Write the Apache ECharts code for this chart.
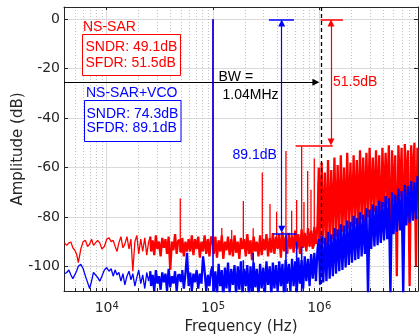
<!DOCTYPE html>
<html><head><meta charset="utf-8">
<script src="https://cdn.jsdelivr.net/npm/echarts@6/dist/echarts.min.js"></script>
<style>html,body{margin:0;padding:0;background:#fff}#c{width:419px;height:336px}</style>
</head><body><div id="c"></div>
<script>
// ---- data (frequencies in kHz, amplitudes in dB) ----
const freqKHz = [
  4.0, 4.2, 4.4, 4.6, 4.8, 5.0, 5.2, 5.4, 5.7, 6.0, 6.3, 6.6, 6.9, 7.2, 7.5, 7.8, 8.2, 8.6, 9.0, 9.5,
  10, 10.5, 11, 11.5, 12, 12.5, 13, 13.6, 14.2, 14.8, 15.5, 16.2, 16.9, 17.6, 18.4, 19.2, 20, 20.9, 21.8, 22.8, 23.8, 24.8,
  25.7, 26.6, 27.5, 28.5, 29.5, 30.5, 31.6, 32.7, 33.9, 35.1, 36.3, 37.6, 38.9, 40.3, 41.7, 43.2, 44.7, 46.3, 47.9, 50.5,
  52.3, 54.1, 56.0, 58.0, 60.0, 62.1, 64.3, 66.6, 68.9, 71.4, 73.9, 76.5, 79.2, 82.0, 84.9, 87.9, 91.0, 94.2, 97.5,
  100, 103.5, 107, 111, 115, 119, 123, 127, 132, 136, 141, 146, 151, 157, 162, 168, 174, 180, 186, 193,
  200, 207, 214, 222, 229, 237, 246, 254, 263, 273, 282, 292, 303, 313, 324, 336, 348, 360, 372, 385,
  399, 413, 428, 443, 458, 474, 491, 508, 526, 545, 564, 584, 604, 625, 647, 670, 694, 718, 743, 770,
  797, 825, 854, 884, 915, 947, 980,
  1000, 1035, 1072, 1110, 1149, 1189, 1231, 1275, 1320, 1366, 1414, 1464, 1516, 1569, 1624, 1682, 1741, 1802, 1866, 1932,
  2000, 2070, 2143, 2219, 2297, 2378, 2462, 2549, 2639, 2732, 2828, 2928, 3031, 3138, 3249, 3364, 3482, 3605, 3733, 3864,
  4000, 4141, 4287, 4439, 4595, 4757, 4925, 5099, 5279, 5465, 5658, 5857, 6064, 6278, 6499, 6728, 6966, 7211, 7466, 7729,
  8002, 8284, 8500
];
const redDb = [
  -90.5, -91.5, -90.5, -90.2, -92.5, -93.5, -95, -98.5, -93, -90, -89.5, -92, -91, -89, -91.5, -92, -89.5, -90.5, -93, -92,
  -89, -88.5, -90, -89.5, -92, -94, -90.5, -88, -92.5, -91, -88, -93, -89, -102, -90, -87.5, -95, -89, -94, -88.5, -95.5, -90,
  -88, -94, -89.5, -95.5, -87.5, -93, -90, -96, -88.5, -92.5, -89, -95, -88, -101.5, -90, -93.5, -87, -95, -89.5, -94,
  -88.5, -96, -90, -94, -89, -94, -87.5, -95.5, -89, -93, -88, -96.5, -90, -94, -87.5, -95, -89, -96, -88,
  -89, -95, -88, -96.5, -89.5, -94, -87.5, -97, -90, -93.5, -88, -95.5, -89, -96, -87.5, -94.5, -90, -97, -88.5, -93,
  -89, -96, -87, -95, -89.5, -97.5, -88, -94, -90, -96, -87.5, -95.5, -89, -93.5, -87, -96, -88.5, -94.5, -86.5, -95,
  -88, -93, -87, -96.5, -86, -94, -88, -95, -86.5, -93, -87.5, -94.5, -85.5, -93, -87, -95, -85, -92.5, -86.5, -94,
  -84.5, -92, -85.5, -93, -84, -91, -83,
  -60, -92, -58, -91, -62, -92, -57, -90, -61, -89, -56, -88, -59, -88, -55, -86, -60, -86, -54, -85,
  -58, -84, -55, -83, -57, -84, -53, -81, -56, -82, -54, -80, -52, -80, -56, -78, -53, -79, -55, -90,
  -52, -76, -54, -75, -51, -98, -53, -74, -55, -104, -51, -72, -52, -95, -50.5, -71, -53, -108, -51, -70,
  -50, -100, -52
];
const blueDb = [
  -103, -102.5, -101.5, -103.5, -105, -105.5, -102, -100, -99.2, -101, -104, -106.5, -109, -106, -102.5, -102, -104.5, -106, -104, -101.5,
  -100.5, -102, -101, -104, -101.5, -103.5, -102.5, -106, -103, -107.5, -104, -102, -105.5, -103, -108, -104.5, -101.5, -107, -103.5, -109, -102.5, -106,
  -102, -108, -103.5, -110, -101.5, -107, -104, -109.5, -102.5, -106.5, -103, -110, -101, -108.5, -104, -107, -102, -110, -103.5, -106,
  -101.5, -109, -103, -94.5, -108, -102.5, -110, -103, -106.5, -101.5, -109, -103, -107, -96, -102, -110, -103.5, -108, -102,
  -100, -110, -102, -112, -99, -108, -101.5, -113, -100.5, -109, -98.5, -111, -101, -107.5, -99.5, -112, -100, -109.5, -98, -111,
  -101, -108, -99.5, -113, -100, -110, -98.5, -108.5, -101, -112, -99, -109, -100.5, -111, -98, -107.5, -100, -112, -98.5, -109,
  -99.5, -110.5, -98, -108, -99, -112, -97.5, -107, -99, -110, -97, -108, -98, -111, -96.5, -107, -97.5, -109, -96, -106,
  -97, -108, -95, -105, -94.5, -106, -93,
  -89, -107.5, -87.5, -106.5, -88.5, -106, -86, -105, -87, -104, -84.5, -103, -85, -102, -83, -101.5, -83.5, -100.5, -81.5, -99.5,
  -82, -98.5, -79.5, -97.5, -80.5, -97, -78, -96, -79, -95, -76.5, -112, -77, -93, -75, -92, -75.5, -91.5, -73.5, -90.5,
  -74, -89.5, -71.5, -89, -72.5, -112, -70, -87, -71, -86, -68.5, -85.5, -69.5, -112, -67, -83.5, -67.5, -82.5, -65.5, -81.5,
  -66, -81, -63.5
];
// tones and harmonic spurs (kHz, peak dB)
const redSpurKHz = [49.2, 100, 121, 150, 193, 239, 291, 344, 397, 486, 550, 613, 683, 718, 778, 836, 898, 980];
const redSpurDb  = [-72.5, 0, -84.5, -85.3, -73.6, -84.6, -62, -74.8, -77.9, -53.3, -77.5, -73.2, -51.5, -74, -61.4, -69, -56.3, -66];
const blueSpurKHz = [100, 193, 239, 486, 613, 683];
const blueSpurDb  = [0, -97.5, -94.6, -87.2, -90, -92];
// axis ticks
const xMajorTicks = [1e4, 1e5, 1e6];
const xMinorTicks = [5e3, 6e3, 7e3, 8e3, 9e3, 2e4, 3e4, 4e4, 5e4, 6e4, 7e4, 8e4, 9e4,
  2e5, 3e5, 4e5, 5e5, 6e5, 7e5, 8e5, 9e5, 2e6, 3e6, 4e6, 5e6, 6e6, 7e6, 8e6];
const yTicks = [-100, -80, -60, -40, -20, 0];
// annotation values
const bwHz = 1.04e6;
const redSfdrDb = -51.2;
const blueSfdrDb = -87;

// ---- styling ----
const RED = '#ff0000', BLUE = '#0000ff', AXC = '#262626';
const FAX = '"DejaVu Sans", sans-serif';
const FTX = '"Liberation Sans", Arial, sans-serif';
const X_MIN = 3960, X_MAX = 8.5e6, Y_MIN = -110, Y_MAX = 5;
const SPUR_BASE_RED = -92, SPUR_BASE_BLUE = -113;
const SPLIT = 42; // first index of the densely sampled part

const redData = freqKHz.map((f, i) => [f * 1000, redDb[i]]);
const blueData = freqKHz.map((f, i) => [f * 1000, blueDb[i]]);
function spurs(fk, db, base) {
  const out = [];
  fk.forEach((f, i) => { out.push([f * 1000, base], [f * 1000, db[i]], [f * 1000, null]); });
  return out;
}
const allX = xMinorTicks.concat(xMajorTicks).sort((a, b) => a - b);

const lineSeries = (name, data, color, z, width, step) => ({
  name, type: 'line', data, showSymbol: false, symbol: 'none', z, step: step || false,
  lineStyle: { color, width: width || 1.3 }, connectNulls: false, animation: false,
  sampling: null, silent: true, clip: true
});

function seg(a, b, color, width, symA, symB, type) {
  return [
    { coord: a, symbol: symA || 'none', symbolSize: 7 },
    { coord: b, symbol: symB || 'none', symbolSize: 7, lineStyle: { color, width, type: type || 'solid' } }
  ];
}
const markData = [
  { xAxis: bwHz, symbol: 'none', lineStyle: { color: '#000', width: 1.3, type: [4, 3] } },
  seg([X_MIN, -25.5], [0.93e6, -25.5], '#000', 1.2, 'none', 'triangle'),
  seg([1.03e6, 0], [1.67e6, 0], RED, 1.5),
  seg([6.0e5, redSfdrDb], [1.34e6, redSfdrDb], RED, 1.5),
  seg([1.29e6, -1.5], [1.29e6, redSfdrDb + 1.5], RED, 1.2, 'triangle', 'triangle'),
  seg([3.36e5, 0], [5.78e5, 0], BLUE, 1.5),
  seg([3.65e5, blueSfdrDb], [6.12e5, blueSfdrDb], BLUE, 1.5),
  seg([4.43e5, -1.5], [4.43e5, blueSfdrDb + 2], BLUE, 1.2, 'triangle', 'triangle')
];
markData.forEach(d => {
  if (Array.isArray(d)) {
    const c = d[1].lineStyle.color;
    d[0].itemStyle = { color: c }; d[1].itemStyle = { color: c };
    d[0].lineStyle = d[1].lineStyle;
  }
});

const chart = echarts.init(document.getElementById('c'), null, { renderer: 'canvas', width: 419, height: 336 });
const option = {
  animation: false,
  backgroundColor: '#ffffff',
  grid: { left: 64, right: 1, top: 7, bottom: 45, containLabel: false, outerBoundsMode: 'none' },
  xAxis: [{
    type: 'log', logBase: 10, min: X_MIN, max: X_MAX, position: 'bottom',
    axisLine: { show: true, onZero: false, lineStyle: { color: AXC, width: 1 } },
    axisTick: { show: true, inside: true, length: 3, customValues: allX, lineStyle: { color: AXC } },
    axisLabel: {
      customValues: xMajorTicks, margin: 10,
      formatter: v => '{b|10}{s|' + Math.round(Math.log10(v)) + '}',
      rich: {
        b: { fontFamily: FAX, fontSize: 14, color: AXC },
        s: { fontFamily: FAX, fontSize: 10, color: AXC, verticalAlign: 'top' }
      }
    },
    splitLine: { show: true, lineStyle: { color: '#c4c4c4', width: 1, type: [1, 2] } },
    minorTick: { show: false }, minorSplitLine: { show: false },
    name: 'Frequency (Hz)', nameLocation: 'middle', nameGap: 28,
    nameTextStyle: { fontFamily: FAX, fontSize: 15, color: AXC }
  }, {
    type: 'log', logBase: 10, min: X_MIN, max: X_MAX, position: 'top',
    axisLine: { show: true, onZero: false, lineStyle: { color: AXC, width: 1 } },
    axisTick: { show: true, inside: true, length: 3, customValues: xMajorTicks, lineStyle: { color: AXC } },
    axisLabel: { show: false },
    splitLine: { show: true, lineStyle: { color: '#dadada', width: 1 } }
  }],
  yAxis: [{
    type: 'value', min: Y_MIN, max: Y_MAX, position: 'left',
    axisLine: { show: true, onZero: false, lineStyle: { color: AXC, width: 1 } },
    axisTick: { show: true, inside: true, length: 4, customValues: yTicks, lineStyle: { color: AXC } },
    axisLabel: { customValues: yTicks, margin: 4, fontFamily: FAX, fontSize: 14, color: AXC },
    splitLine: { show: true, lineStyle: { color: '#dadada', width: 1 } },
    name: 'Amplitude (dB)', nameLocation: 'middle', nameGap: 38, nameMoveOverlap: false,
    nameTextStyle: { fontFamily: FAX, fontSize: 15, color: AXC }
  }, {
    type: 'value', min: Y_MIN, max: Y_MAX, position: 'right',
    axisLine: { show: true, onZero: false, lineStyle: { color: AXC, width: 1 } },
    axisTick: { show: true, inside: true, length: 4, customValues: yTicks, lineStyle: { color: AXC } },
    axisLabel: { show: false }, splitLine: { show: false }
  }],
  series: [
    lineSeries('NS-SAR', redData.slice(0, SPLIT + 1), RED, 2, 1.3),
    lineSeries('NS-SAR dense', redData.slice(SPLIT), RED, 2, 2.3, 'middle'),
    lineSeries('NS-SAR spurs', spurs(redSpurKHz, redSpurDb, SPUR_BASE_RED), RED, 3, 1.3),
    lineSeries('NS-SAR+VCO', blueData.slice(0, SPLIT + 1), BLUE, 4, 1.3),
    lineSeries('NS-SAR+VCO dense', blueData.slice(SPLIT), BLUE, 4, 2.3, 'middle'),
    lineSeries('NS-SAR+VCO spurs', spurs(blueSpurKHz, blueSpurDb, SPUR_BASE_BLUE), BLUE, 5, 1.6),
    {
      type: 'line', data: [], z: 6, silent: true,
      markLine: { silent: true, animation: false, symbol: 'none', label: { show: false },
        emphasis: { disabled: true }, data: markData }
    }
  ],
  graphic: [
    { type: 'text', z: 100, x: 83, y: 27, style: { text: 'NS-SAR', fill: RED, font: '14px ' + FTX, align: 'left', verticalAlign: 'middle' } },
    { type: 'rect', z: 99, shape: { x: 82.5, y: 34.5, width: 98, height: 41 }, style: { fill: '#fff', stroke: RED, lineWidth: 1 } },
    { type: 'text', z: 100, x: 85.5, y: 47.5, style: { text: 'SNDR: 49.1dB', fill: RED, font: '14px ' + FTX, align: 'left', verticalAlign: 'middle' } },
    { type: 'text', z: 100, x: 85.5, y: 63.5, style: { text: 'SFDR: 51.5dB', fill: RED, font: '14px ' + FTX, align: 'left', verticalAlign: 'middle' } },
    { type: 'text', z: 100, x: 86, y: 93, style: { text: 'NS-SAR+VCO', fill: BLUE, font: '14px ' + FTX, align: 'left', verticalAlign: 'middle' } },
    { type: 'rect', z: 99, shape: { x: 84.5, y: 100.5, width: 96.5, height: 41 }, style: { fill: '#fff', stroke: BLUE, lineWidth: 1 } },
    { type: 'text', z: 100, x: 86.5, y: 114.5, style: { text: 'SNDR: 74.3dB', fill: BLUE, font: '14px ' + FTX, align: 'left', verticalAlign: 'middle' } },
    { type: 'text', z: 100, x: 86.5, y: 128, style: { text: 'SFDR: 89.1dB', fill: BLUE, font: '14px ' + FTX, align: 'left', verticalAlign: 'middle' } },
    { type: 'text', z: 100, x: 218.5, y: 77, style: { text: 'BW =', fill: '#000', font: '14px ' + FTX, align: 'left', verticalAlign: 'middle' } },
    { type: 'text', z: 100, x: 222.5, y: 95, style: { text: '1.04MHz', fill: '#000', font: '14px ' + FTX, align: 'left', verticalAlign: 'middle' } },
    { type: 'text', z: 100, x: 333, y: 82.5, style: { text: '51.5dB', fill: RED, font: '14px ' + FTX, align: 'left', verticalAlign: 'middle' } },
    { type: 'text', z: 100, x: 232.5, y: 155, style: { text: '89.1dB', fill: BLUE, font: '14px ' + FTX, align: 'left', verticalAlign: 'middle' } }
  ]
};
chart.setOption(option);
</script>
</body></html>
